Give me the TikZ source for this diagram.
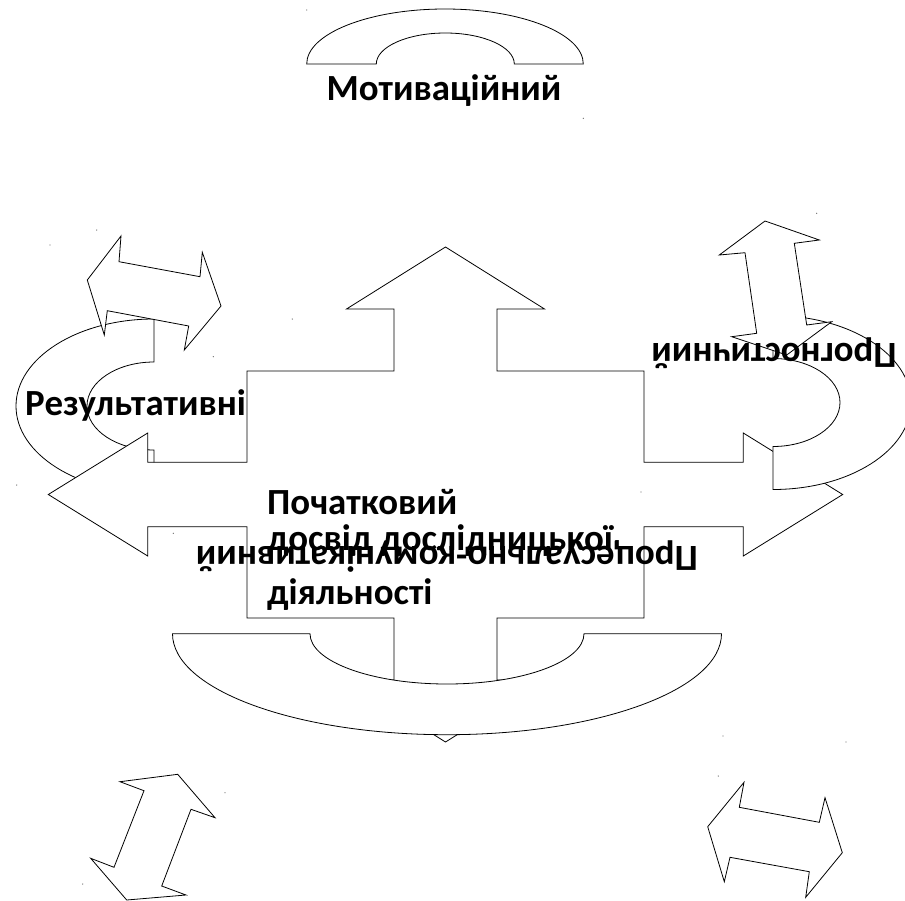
\documentclass[tikz,border=0pt]{standalone}
\usepackage{fontspec}
\setmainfont{Carlito}
\begin{document}
\begin{tikzpicture}[x=1bp,y=-1bp]
\tikzset{
  figpart/.style={draw=black, fill=white, line width=0.8bp, line join=miter},
  lbl/.style={font=\bfseries\fontsize{37}{44}\selectfont, inner sep=0pt, text=black},
  speck/.style={fill=black!55}
}
\useasboundingbox (0,0) rectangle (905,901);

% top curved band
\path[figpart] (306.7,64) arc[start angle=180, end angle=360, x radius=138.3, y radius=55]
  -- (514.3,64) arc[start angle=360, end angle=180, x radius=69, y radius=31] -- cycle;
\node[lbl, anchor=base] (motiv) at (444,100) {Мотиваційний};

% left U-band
\path[figpart] (154,319) arc[start angle=270, end angle=90, x radius=138, y radius=87]
  -- (154,450) arc[start angle=90, end angle=270, x radius=67, y radius=44] -- cycle;
\node[lbl, anchor=base west] (result) at (25,415) {Результативні};

% upper-left double arrow
\path[figpart] (87.3,280) -- (121,236) -- (119,261.7) -- (200,276.7) -- (202.3,252.3)
  -- (221,306) -- (184.3,350) -- (188.7,326) -- (107.3,310.7) -- (104.3,335) -- cycle;

% central four-way arrow
\path[figpart] (445.5,247) -- (544.5,309) -- (497,309) -- (497,371) -- (644,371)
  -- (644,462.3) -- (743.3,462.3) -- (743.3,433) -- (842.7,494.5) -- (743.3,556)
  -- (743.3,526.7) -- (644,526.7) -- (644,618) -- (497,618) -- (497,680)
  -- (544.5,680) -- (445.5,742) -- (346.5,680) -- (394,680) -- (394,618)
  -- (247,618) -- (247,526.7) -- (147.7,526.7) -- (147.7,556) -- (48.3,494.5)
  -- (147.7,433) -- (147.7,462.3) -- (247,462.3) -- (247,371) -- (394,371)
  -- (394,309) -- (346.5,309) -- cycle;

% lower curved band
\path[figpart] (172.5,633.7) arc[start angle=180, end angle=0, x radius=274.5, y radius=101]
  -- (584,633.7) arc[start angle=0, end angle=180, x radius=137, y radius=50.3] -- cycle;

% centre texts
\node[lbl, anchor=base west] (init1) at (267,514) {Початковий};
\node[lbl, anchor=base west] (init2) at (267,550) {досвід дослідницької};
\node[lbl, anchor=base west] (init3) at (267,604) {діяльності};
\node[lbl, rotate=180, anchor=base] (proc) at (447,546) {Процесуально-комунікативний};

% right U-band
\path[figpart] (773,489.5) arc[start angle=90, end angle=-90, x radius=138, y radius=87]
  -- (773,358.5) arc[start angle=-90, end angle=90, x radius=67, y radius=44] -- cycle;

% right double arrow
\path[figpart] (765,221) -- (819.3,240) -- (794.3,243.3) -- (806.7,325) -- (831.7,321.7)
  -- (786.7,355) -- (731.7,336.7) -- (756.7,333.3) -- (745,252.7) -- (719.3,255) -- cycle;
\node[lbl, rotate=180, anchor=base] (progn) at (774,343) {Прогностичний};

% lower double arrows
\path[figpart] (177.7,774.3) -- (215,817.7) -- (191,809.3) -- (161.7,886) -- (186,895)
  -- (126.7,900) -- (90.7,858.3) -- (114,867.3) -- (144,790.7) -- (120,781.7) -- cycle;
\path[figpart] (744,782.3) -- (739.3,807.3) -- (819.3,822.3) -- (825,797.7) -- (842.3,852.7)
  -- (805.7,897.3) -- (809.3,871.7) -- (730,857.3) -- (724.3,881.7) -- (707.7,826.7) -- cycle;

% stray specks
\foreach \p in {(306.7,10),(583.3,118.3),(96.7,230),(50,245),(213.3,356.7),(16.7,485),
  (816.7,213.3),(641,492),(173.3,533.3),(723,736),(846,742),(225,792.7),(82.7,884),
  (718.3,776),(292.3,319)}
  \fill[speck] \p circle[radius=0.7];
\end{tikzpicture}
\end{document}
